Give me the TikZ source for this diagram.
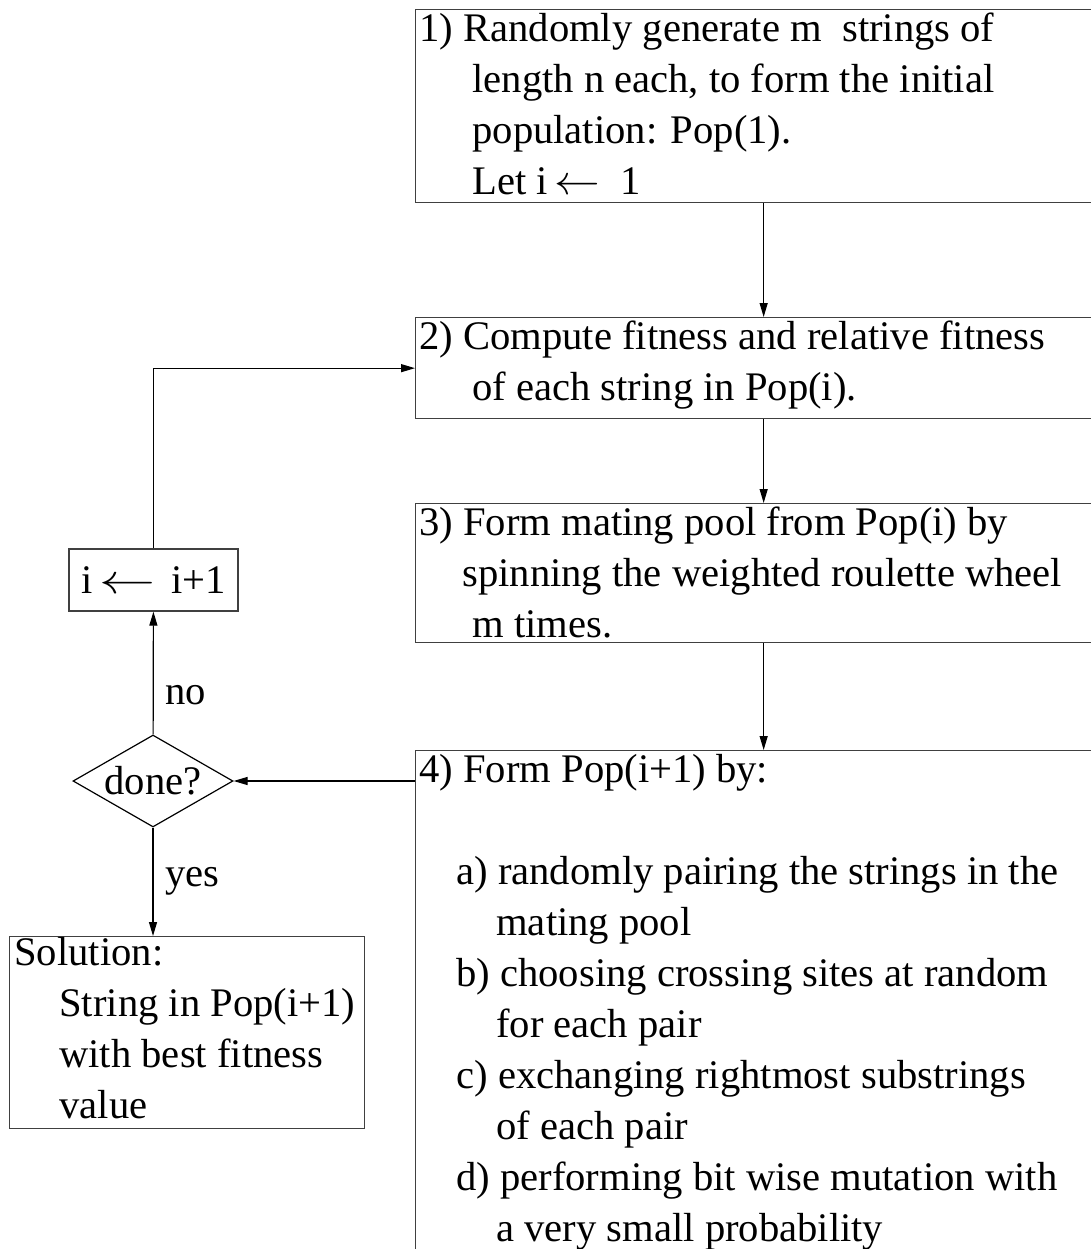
\documentclass[tikz,border=0pt]{standalone}
\usepackage{fontspec}
\usepackage{graphicx}
\setmainfont{Liberation Serif}
\usetikzlibrary{arrows.meta,shapes.geometric}
\tikzstyle{stepbox} = [draw=black!75, line width=0.65pt, rectangle, anchor=north west, inner sep=0pt]
\tikzstyle{steptext} = [anchor=north west, inner sep=0pt, align=left]
\tikzstyle{flow} = [draw, line width=0.6pt, -{Triangle[length=7pt,width=4pt]}]

\begin{document}
\begin{tikzpicture}[x=0.5pt, y=-0.5pt, font=\fontsize{20.3pt}{25.5pt}\selectfont]
    \path [use as bounding box, clip] (0,0) rectangle (1091,1249);
    % Draw the steps of the main column.
    \node [stepbox, minimum width=348pt, minimum height=96.5pt] (init) at (415,9) {};
    \node [stepbox, minimum width=348pt, minimum height=50.5pt] (fit) at (415,317) {};
    \node [stepbox, minimum width=348pt, minimum height=69.5pt] (pool) at (415,503) {};
    \node [stepbox, minimum width=348pt, minimum height=260pt] (newpop) at (415,750) {};
    % Texts of the steps.
    \node [steptext] (inittext) at (419,5.3) {\strut 1) Randomly generate m\ \ strings of\\
      \hspace*{26.5pt}length n each, to form the initial\\
      \hspace*{26.5pt}population: Pop(1).\\
      \hspace*{26.5pt}Let i\,\scalebox{1.1}[1]{$\leftarrow$}\hspace{10pt}1};
    \node [steptext] (fittext) at (419,313.3) {\strut 2) Compute fitness and relative fitness\\
      \hspace*{26.5pt}of each string in Pop(i).};
    \node [steptext] (pooltext) at (419,499.3) {\strut 3) Form mating pool from Pop(i) by\\
      \hspace*{21.5pt}spinning the weighted roulette wheel\\
      \hspace*{26.5pt}m times.};
    \node [steptext] (newpoptext) at (419,746.3) {\strut 4) Form Pop(i+1) by:\\
      \mbox{}\\
      \hspace*{18.5pt}a) randomly pairing the strings in the\\
      \hspace*{38.5pt}mating pool\\
      \hspace*{18.5pt}b) choosing crossing sites at random\\
      \hspace*{38.5pt}for each pair\\
      \hspace*{18.5pt}c) exchanging rightmost substrings\\
      \hspace*{38.5pt}of each pair\\
      \hspace*{18.5pt}d) performing bit wise mutation with\\
      \hspace*{38.5pt}a very small probability};
    % Loop test, counter and solution.
    \node [diamond, draw, line width=0.6pt, aspect=1.74, minimum width=80pt, minimum height=46pt, inner sep=0pt] (done) at (153,781) {done?};
    \node [draw=black!75, line width=0.65pt, minimum width=84.5pt, minimum height=31pt, inner sep=0pt] (incr) at (153.5,580) {i\,\scalebox{1.35}[1]{$\leftarrow$}\hspace{8pt}i+1};
    \node [stepbox, minimum width=177.5pt, minimum height=96pt] (sol) at (9,936) {};
    \node [steptext] (soltext) at (14,929.3) {\strut Solution:\\
      \hspace*{22.5pt}String in Pop(i+1)\\
      \hspace*{22.5pt}with best fitness\\
      \hspace*{22.5pt}value};
    % Main column.
    \path [flow] (init) -- (fit);
    \path [flow] (fit) -- (pool);
    \path [flow] (pool) -- (newpop);
    % Back to the test and round the loop.
    \path [flow] (done.east -| newpop.west) -- (done.east);
    \path [flow] (done) -- node [right=2.5pt, pos=0.32] {no} (incr);
    \path [flow] (incr.north) |- (fit.west);
    \path [flow] (done.south) -- node [right=2.5pt] {yes} (done.south |- sol.north);
\end{tikzpicture}
\end{document}
